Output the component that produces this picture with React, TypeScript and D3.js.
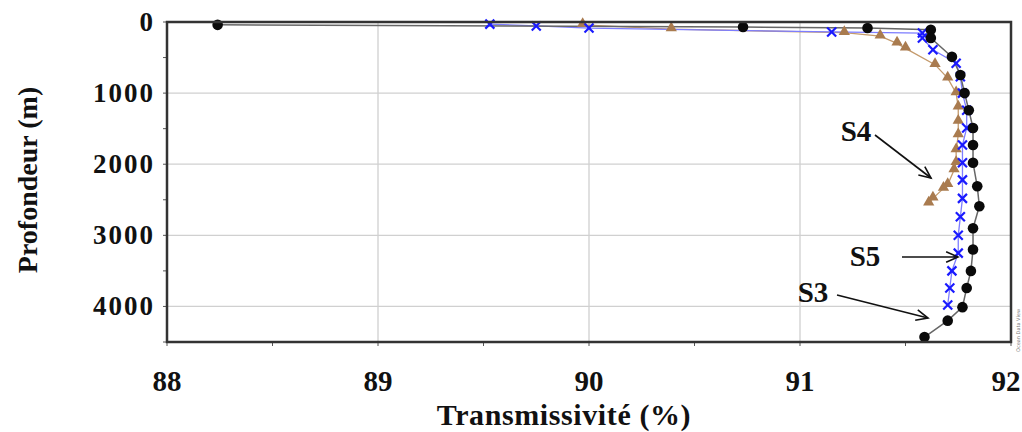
import React from "react";
import * as d3 from "d3";

const xTicks = [88, 89, 90, 91, 92];
const yTicks = [0, 1000, 2000, 3000, 4000];

// S3 (black circles): transmissivity, depth
const s3T = [88.24, 90.73, 91.32, 91.62, 91.62, 91.72, 91.76, 91.78, 91.8, 91.82, 91.82, 91.82, 91.84, 91.85, 91.82, 91.82, 91.81, 91.79, 91.77, 91.7, 91.59];
const s3D = [40, 70, 85, 110, 225, 490, 745, 1000, 1240, 1490, 1730, 1980, 2310, 2590, 2900, 3200, 3500, 3740, 4010, 4200, 4430];

// S5 (blue crosses)
const s5T = [89.53, 89.75, 90.0, 91.15, 91.58, 91.58, 91.63, 91.74, 91.76, 91.77, 91.79, 91.79, 91.77, 91.77, 91.77, 91.77, 91.76, 91.75, 91.75, 91.72, 91.71, 91.7];
const s5D = [30, 55, 85, 140, 155, 225, 390, 580, 770, 1000, 1240, 1490, 1730, 1980, 2220, 2480, 2740, 3000, 3250, 3500, 3740, 3980];

// S4 (brown triangles)
const s4T = [89.97, 90.39, 91.21, 91.38, 91.46, 91.5, 91.64, 91.7, 91.74, 91.75, 91.75, 91.75, 91.74, 91.74, 91.73, 91.7, 91.68, 91.63, 91.61];
const s4D = [40, 100, 150, 200, 300, 370, 600, 790, 1000, 1200, 1400, 1590, 1800, 1980, 2080, 2290, 2340, 2480, 2550];

const W = 1022, H = 432;
const L = 167, R = 1011, T = 22, B = 342;

export default function App() {
  const x = d3.scaleLinear().domain([88, 92]).range([L, R]);
  const y = d3.scaleLinear().domain([0, 4500]).range([T, B]);
  const line = d3.line<[number, number]>().x(d => x(d[0])).y(d => y(d[1]));
  const zip = (a: number[], b: number[]) => a.map((v, i) => [v, b[i]] as [number, number]);
  const s3 = zip(s3T, s3D), s5 = zip(s5T, s5D), s4 = zip(s4T, s4D);
  const minorX = d3.range(88, 92.01, 0.5);
  const minorY = d3.range(0, 4501, 500);
  const font = "'Liberation Serif', 'Times New Roman', serif";
  const tri = d3.symbol().type(d3.symbolTriangle).size(55)() as string;

  const arrow = (x1: number, y1: number, x2: number, y2: number, k: string) => {
    const a = Math.atan2(y2 - y1, x2 - x1);
    const h = 13, s = 0.42;
    const p1 = [x2 - h * Math.cos(a - s), y2 - h * Math.sin(a - s)];
    const p2 = [x2 - h * Math.cos(a + s), y2 - h * Math.sin(a + s)];
    return (
      <g key={k} stroke="#111" strokeWidth={1.6} fill="none">
        <line x1={x1} y1={y1} x2={x2} y2={y2} />
        <polyline points={`${p1[0]},${p1[1]} ${x2},${y2} ${p2[0]},${p2[1]}`} />
      </g>
    );
  };

  return (
    <svg width={W} height={H} style={{ position: "absolute", left: 0, top: 0, background: "#fff" }}>
      <rect x={0} y={0} width={W} height={H} fill="#fff" />
      {/* grid */}
      {xTicks.slice(1, -1).map(t => (
        <line key={"gx" + t} x1={x(t)} x2={x(t)} y1={T} y2={B} stroke="#d0d0d0" strokeWidth={1.3} />
      ))}
      {yTicks.slice(1).map(t => (
        <line key={"gy" + t} x1={L} x2={R} y1={y(t)} y2={y(t)} stroke="#d0d0d0" strokeWidth={1.3} />
      ))}
      {/* ticks */}
      {minorX.map(t => (
        <line key={"tx" + t} x1={x(t)} x2={x(t)} y1={B} y2={B + 4} stroke="#555" strokeWidth={1} />
      ))}
      {minorY.map(t => (
        <line key={"ty" + t} x1={L - 4} x2={L} y1={y(t)} y2={y(t)} stroke="#555" strokeWidth={1} />
      ))}
      {/* lines */}
      <path d={line(s4) as string} fill="none" stroke="#c49a6c" strokeWidth={1.3} />
      <path d={line(s5) as string} fill="none" stroke="#7d7dff" strokeWidth={1.3} />
      <path d={line(s3) as string} fill="none" stroke="#666" strokeWidth={1.5} />
      {/* markers */}
      {s4.map((d, i) => (
        <path key={"m4" + i} d={tri} transform={`translate(${x(d[0])},${y(d[1]) - 1})`} fill="#a97b4f" />
      ))}
      {s5.map((d, i) => {
        const cx = x(d[0]), cy = y(d[1]), r = 4.5;
        return (
          <g key={"m5" + i} stroke="#1a1aff" strokeWidth={2.2}>
            <line x1={cx - r} y1={cy - r} x2={cx + r} y2={cy + r} />
            <line x1={cx - r} y1={cy + r} x2={cx + r} y2={cy - r} />
          </g>
        );
      })}
      {s3.map((d, i) => (
        <circle key={"m3" + i} cx={x(d[0])} cy={y(d[1])} r={5.3} fill="#0a0a0a" />
      ))}
      {/* frame */}
      <rect x={L} y={T} width={R - L} height={B - T} fill="none" stroke="#333" strokeWidth={2.5} />
      {/* tick labels */}
      {xTicks.map((t, i) => (
        <text key={"lx" + t} x={i === xTicks.length - 1 ? Math.min(x(t), 1006) : x(t)} y={391} textAnchor="middle" fontFamily={font} fontWeight="bold" fontSize={29} fill="#111">{t}</text>
      ))}
      {yTicks.map(t => (
        <text key={"ly" + t} x={155} y={y(t) + 9} textAnchor="end" fontFamily={font} fontWeight="bold" fontSize={27} letterSpacing={2} fill="#111">{t}</text>
      ))}
      {/* axis titles */}
      <text x={564} y={425} textAnchor="middle" fontFamily={font} fontWeight="bold" fontSize={30} letterSpacing={0.6} fill="#111">Transmissivité (%)</text>
      <text transform="translate(37,180) rotate(-90)" textAnchor="middle" fontFamily={font} fontWeight="bold" fontSize={28} fill="#111">Profondeur  (m)</text>
      {/* annotations */}
      <text x={856} y={141} textAnchor="middle" fontFamily={font} fontWeight="bold" fontSize={29} fill="#111">S4</text>
      <text x={865} y={266} textAnchor="middle" fontFamily={font} fontWeight="bold" fontSize={29} fill="#111">S5</text>
      <text x={813} y={302} textAnchor="middle" fontFamily={font} fontWeight="bold" fontSize={29} fill="#111">S3</text>
      {arrow(875, 135, 931, 178, "a4")}
      {arrow(902, 257, 958, 257, "a5")}
      {arrow(837, 295, 928, 318, "a3")}
      <text transform="translate(1020,352) rotate(-90)" fontFamily="'DejaVu Sans', sans-serif" fontSize={5} fill="#777">Ocean Data View</text>
    </svg>
  );
}
